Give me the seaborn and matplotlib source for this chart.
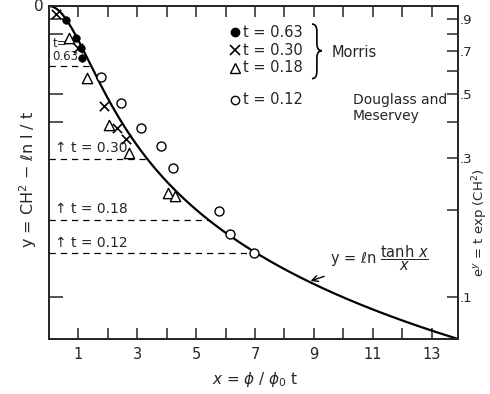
import numpy as np
import pandas as pd
import matplotlib
matplotlib.use("Agg")
import matplotlib.pyplot as plt
from matplotlib.path import Path
from matplotlib.patches import PathPatch
import seaborn as sns

# Points: x = phi/phi0 t, y = CH^2 - ln 1/t
x_t063 = [0.58, 0.92, 1.09, 1.13]
y_t063 = [-0.11, -0.25, -0.33, -0.41]
x_t030 = [0.24, 0.99, 1.88, 2.32, 2.63]
y_t030 = [-0.06, -0.33, -0.79, -0.96, -1.05]
x_t018 = [0.68, 1.30, 2.05, 2.73, 4.03, 4.27]
y_t018 = [-0.25, -0.57, -0.94, -1.16, -1.48, -1.50]
x_t012 = [1.77, 2.46, 3.14, 3.82, 4.20, 5.77, 6.14, 6.96]
y_t012 = [-0.56, -0.77, -0.96, -1.11, -1.28, -1.62, -1.80, -1.95]

# dashed guide levels (y) for each t
t_names = ["0.63", "0.30", "0.18", "0.12"]
t_levels = [-0.47, -1.21, -1.69, -1.955]

x_ticks = list(range(1, 14))
x_labels = [str(v) if v % 2 else "" for v in x_ticks]
right_major = [0.9, 0.7, 0.5, 0.3, 0.1]
right_major_labels = [".9", ".7", ".5", ".3", ".1"]
right_minor = [0.8, 0.6, 0.4, 0.2]
left_ticks = [0.9, 0.8, 0.5, 0.4, 0.1]

x_max = 13.9

sns.set_style("ticks")
plt.rcParams["font.family"] = ["DejaVu Sans"]
plt.rcParams["mathtext.fontset"] = "dejavusans"

fig = plt.figure(figsize=(4.9, 3.94), dpi=100)
ax = fig.add_axes([0.1, 0.1396, 0.8347, 0.845])

# theoretical curve y = ln(tanh x / x)
xc = np.linspace(1e-3, x_max, 500)
yc = np.log(np.tanh(xc) / xc)
sns.lineplot(x=xc, y=yc, color="black", lw=1.6, ax=ax)

# dashed lines from the axis to the curve
for lev in t_levels:
    xi = np.interp(lev, yc[::-1], xc[::-1])
    ax.plot([0, xi], [lev, lev], color="black", lw=0.9, ls=(0, (5, 4)))

# data points
sns.scatterplot(x=x_t012, y=y_t012, marker="o", s=42, facecolor="white",
                edgecolor="black", linewidth=1.0, ax=ax, zorder=4)
sns.scatterplot(x=x_t018, y=y_t018, marker="^", s=55, facecolor="white",
                edgecolor="black", linewidth=1.0, ax=ax, zorder=4)
sns.scatterplot(x=x_t030, y=y_t030, marker="x", s=45, color="black",
                linewidth=1.2, ax=ax, zorder=4)
sns.scatterplot(x=x_t063, y=y_t063, marker="o", s=30, color="black",
                edgecolor="black", ax=ax, zorder=5)

ax.set_xlim(0, x_max)
ax.set_ylim(np.log(np.tanh(x_max) / x_max), 0)

# axes ticks
ax.set_xticks(x_ticks)
ax.set_xticklabels(x_labels, fontsize=10.5)
ax.set_yticks(np.log(left_ticks))
ax.set_yticklabels([])
ax.tick_params(axis="x", direction="in", top=True, length=8, width=1.1, pad=6)
ax.tick_params(axis="y", direction="in", length=10, width=1.1)
for s in ax.spines.values():
    s.set_linewidth(1.3)

ax2 = ax.twinx()
ax2.set_ylim(ax.get_ylim())
ax2.set_yticks(np.log(right_major))
ax2.set_yticklabels(right_major_labels, fontsize=9.5)
ax2.set_yticks(np.log(right_minor), minor=True)
ax2.tick_params(axis="y", which="both", direction="in", length=8, width=1.1, pad=1)
for s in ax2.spines.values():
    s.set_linewidth(1.3)

ax.text(-0.012, 1.0, "0", transform=ax.transAxes, ha="right", va="center", fontsize=11)

# labels for dashed lines
ax.text(0.12, t_levels[0] + 0.02, "t=\n0.63", fontsize=8.5, ha="left", va="bottom",
        linespacing=0.95)
for name, lev in zip(t_names[1:], t_levels[1:]):
    ax.text(0.2, lev + 0.03, "\u2191 t = " + name, fontsize=10, ha="left", va="bottom")

# legend block
lx, tx = 0.455, 0.475
rows = [0.922, 0.868, 0.814, 0.718]
ax.plot(lx, rows[0], "o", ms=6, color="black", transform=ax.transAxes)
ax.plot(lx, rows[1], "x", ms=7, mew=1.2, color="black", transform=ax.transAxes)
ax.plot(lx, rows[2], "^", ms=7, mfc="white", mec="black", transform=ax.transAxes)
ax.plot(lx, rows[3], "o", ms=6, mfc="white", mec="black", transform=ax.transAxes)
for r, name in zip(rows, t_names):
    ax.text(tx, r, "t = " + name, transform=ax.transAxes, fontsize=10.5, va="center")

# curly brace grouping the Morris runs
a, b, c = 0.643, 0.655, 0.667
top, bot, mid, r = 0.946, 0.782, 0.866, 0.022
verts = [(a, top), (b, top), (b, top - r), (b, mid + r), (b, mid), (c, mid),
         (b, mid), (b, mid - r), (b, bot + r), (b, bot), (a, bot)]
codes = [Path.MOVETO, Path.CURVE3, Path.CURVE3, Path.LINETO, Path.CURVE3, Path.CURVE3,
         Path.CURVE3, Path.CURVE3, Path.LINETO, Path.CURVE3, Path.CURVE3]
ax.add_patch(PathPatch(Path(verts, codes), transform=ax.transAxes, fill=False,
                       lw=1.2, edgecolor="black"))
ax.text(0.69, 0.862, "Morris", transform=ax.transAxes, fontsize=10.5, va="center")
ax.text(0.743, 0.74, "Douglass and\nMeservey", transform=ax.transAxes,
        fontsize=10, va="top", linespacing=1.2)

# curve label
ax.annotate(r"y = $\ell$n $\dfrac{\mathrm{tanh}\ \mathit{x}}{\mathit{x}}$",
            xy=(8.8, -2.18), xytext=(9.55, -1.99),
            fontsize=10.5, ha="left", va="center",
            arrowprops=dict(arrowstyle="->", color="black", lw=1.0))

fig.text(0.52, 0.025, r"$x$ = $\phi$ / $\phi_0$ t", ha="center", fontsize=11)
fig.text(0.058, 0.545, r"y = CH$^2$ $-$ $\ell$n l / t", rotation=90, ha="center",
         va="center", fontsize=11.5)
fig.text(0.979, 0.435, r"e$^y$ = t exp (CH$^2$)", rotation=90, ha="center",
         va="center", fontsize=9.5)

fig.savefig("out.png", dpi=100)
